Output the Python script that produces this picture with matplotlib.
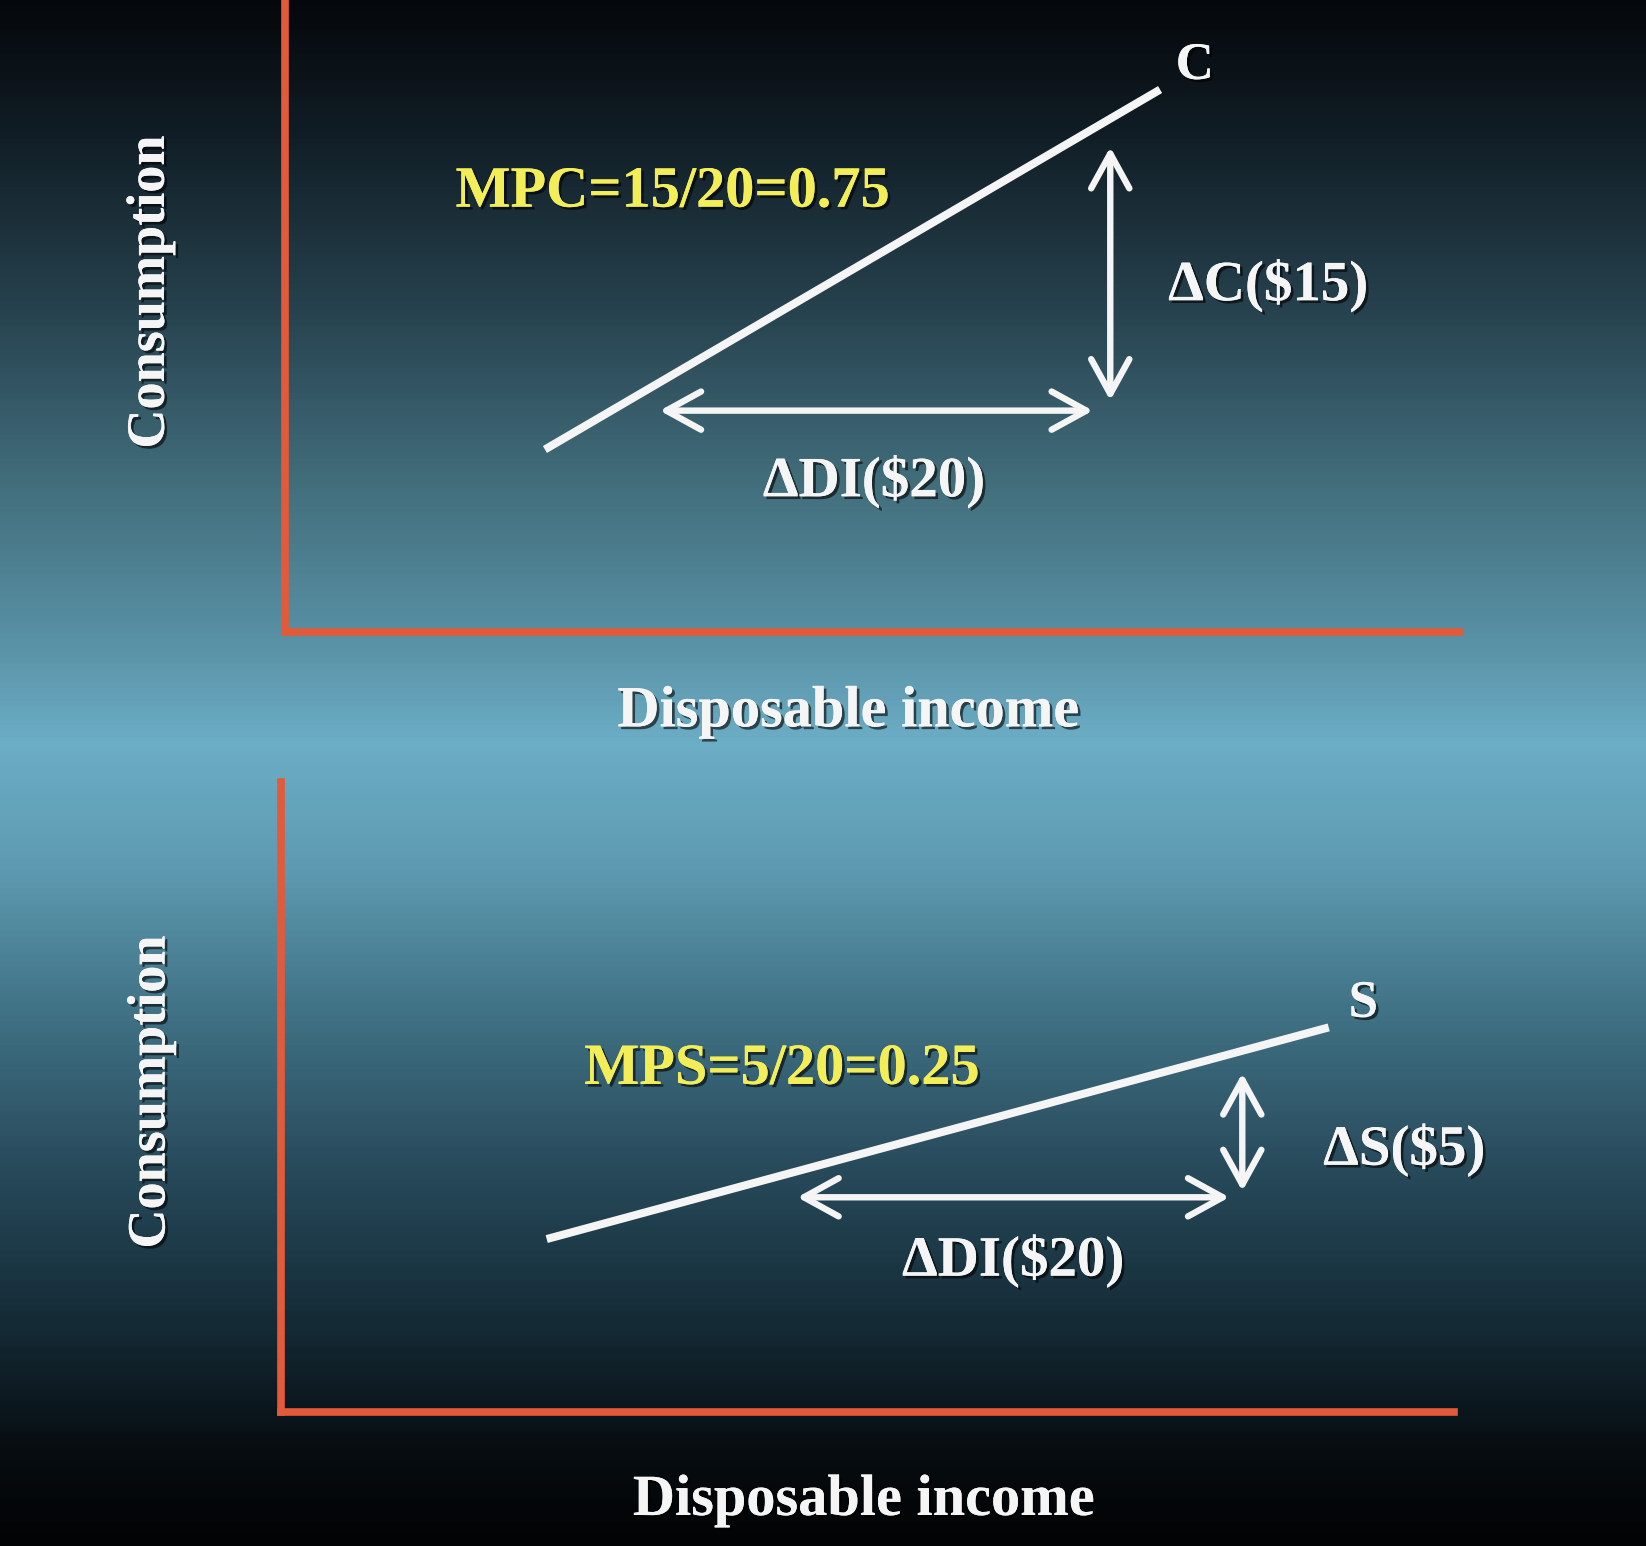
import numpy as np
import matplotlib.pyplot as plt
import matplotlib.patheffects as pe
from matplotlib.patches import FancyArrowPatch
from matplotlib.colors import LinearSegmentedColormap

# consumption function (top panel)
di_c = [12.0, 40.4]
cons = [10.8, 32.1]
c_di_arrow = [17.3, 37.3]      # change in disposable income, $20
c_di_level = 13.1
c_c_arrow = [13.7, 28.7]       # change in consumption, $15
c_c_pos = 38.1

# saving function (bottom panel)
di_s = [12.3, 48.5]
sav = [7.33, 16.3]
s_di_arrow = [23.9, 43.9]      # change in disposable income, $20
s_di_level = 9.1
s_s_arrow = [9.36, 14.36]      # change in saving, $5
s_s_pos = 44.5

mpc_label = "MPC=15/20=0.75"
mps_label = "MPS=5/20=0.25"

W, H = 1646, 1546
fig = plt.figure(figsize=(W / 100, H / 100), dpi=100)

# background gradient
bg = fig.add_axes([0, 0, 1, 1])
stops = [(0.0, "#05080b"), (0.08, "#101c24"), (0.2, "#27424f"),
         (0.32, "#44717f"), (0.42, "#5a93a8"), (0.48, "#6caec6"),
         (0.56, "#5e9bb2"), (0.66, "#3f7083"), (0.76, "#27495a"),
         (0.86, "#142a35"), (0.94, "#070d11"), (1.0, "#020304")]
cmap = LinearSegmentedColormap.from_list("bg", stops)
grad = np.linspace(0, 1, 512).reshape(-1, 1)
bg.imshow(grad, cmap=cmap, aspect="auto", extent=[0, 1, 0, 1], origin="upper")
bg.set_axis_off()

red = "#e35a3b"
white = "#f5f5f5"
yellow = "#f3ee58"
shadow = [pe.withSimplePatchShadow(offset=(2, -2), shadow_rgbFace="black", alpha=0.6), pe.Normal()]
font = dict(family="Liberation Serif", fontweight="bold")


def panel(rect, xmax, ymax):
    ax = fig.add_axes(rect)
    ax.set_facecolor("none")
    ax.set_xlim(0, xmax)
    ax.set_ylim(0, ymax)
    for side in ["top", "right"]:
        ax.spines[side].set_visible(False)
    for side in ["left", "bottom"]:
        ax.spines[side].set_color(red)
        ax.spines[side].set_linewidth(5.5)
        ax.spines[side].set_capstyle("projecting")
    ax.set_xticks([])
    ax.set_yticks([])
    return ax


def arrow(ax, a, b):
    p = FancyArrowPatch(a, b, arrowstyle="<->,head_length=1.0,head_width=0.55",
                        mutation_scale=25, lw=4.6, color=white,
                        shrinkA=0, shrinkB=0, capstyle="round", joinstyle="round")
    ax.add_patch(p)


# top panel
ax1 = panel([285 / W, 1 - 632 / H, 1174 / W, 632 / H], 54.2, 37.4)
ax1.plot(di_c, cons, color=white, lw=5.8, solid_capstyle="butt")
arrow(ax1, (c_di_arrow[0], c_di_level), (c_di_arrow[1], c_di_level))
arrow(ax1, (c_c_pos, c_c_arrow[0]), (c_c_pos, c_c_arrow[1]))
ax1.text(42.0, 33.5, "C", color=white, fontsize=38, ha="center", va="center", path_effects=shadow, **font)
ax1.text(17.9, 26.0, mpc_label, color=yellow, fontsize=42, ha="center", va="center", path_effects=shadow, **font)
ax1.text(45.4, 20.5, "ΔC($15)", color=white, fontsize=41, ha="center", va="center", path_effects=shadow, **font)
ax1.text(27.2, 8.9, "ΔDI($20)", color=white, fontsize=41, ha="center", va="center", path_effects=shadow, **font)
ax1.set_ylabel("Consumption", color=white, fontsize=39, path_effects=shadow, **font)
ax1.yaxis.set_label_coords(-0.093, 0.538)
ax1.set_xlabel("Disposable income", color=white, fontsize=42, path_effects=shadow, **font)
ax1.xaxis.set_label_coords(0.48, -0.086)

# bottom panel
ax2 = panel([281 / W, 1 - 1412 / H, 1173 / W, 630 / H], 54.3, 26.7)
ax2.plot(di_s, sav, color=white, lw=5.8, solid_capstyle="butt")
arrow(ax2, (s_di_arrow[0], s_di_level), (s_di_arrow[1], s_di_level))
arrow(ax2, (s_s_pos, s_s_arrow[0]), (s_s_pos, s_s_arrow[1]))
ax2.text(50.1, 17.3, "S", color=white, fontsize=38, ha="center", va="center", path_effects=shadow, **font)
ax2.text(23.2, 14.5, mps_label, color=yellow, fontsize=42, ha="center", va="center", path_effects=shadow, **font)
ax2.text(52.0, 11.1, "ΔS($5)", color=white, fontsize=41, ha="center", va="center", path_effects=shadow, **font)
ax2.text(33.9, 6.4, "ΔDI($20)", color=white, fontsize=41, ha="center", va="center", path_effects=shadow, **font)
ax2.set_ylabel("Consumption", color=white, fontsize=39, path_effects=shadow, **font)
ax2.yaxis.set_label_coords(-0.089, 0.508)
ax2.set_xlabel("Disposable income", color=white, fontsize=42, path_effects=shadow, **font)
ax2.xaxis.set_label_coords(0.497, -0.100)

fig.savefig("out.png", dpi=100)
